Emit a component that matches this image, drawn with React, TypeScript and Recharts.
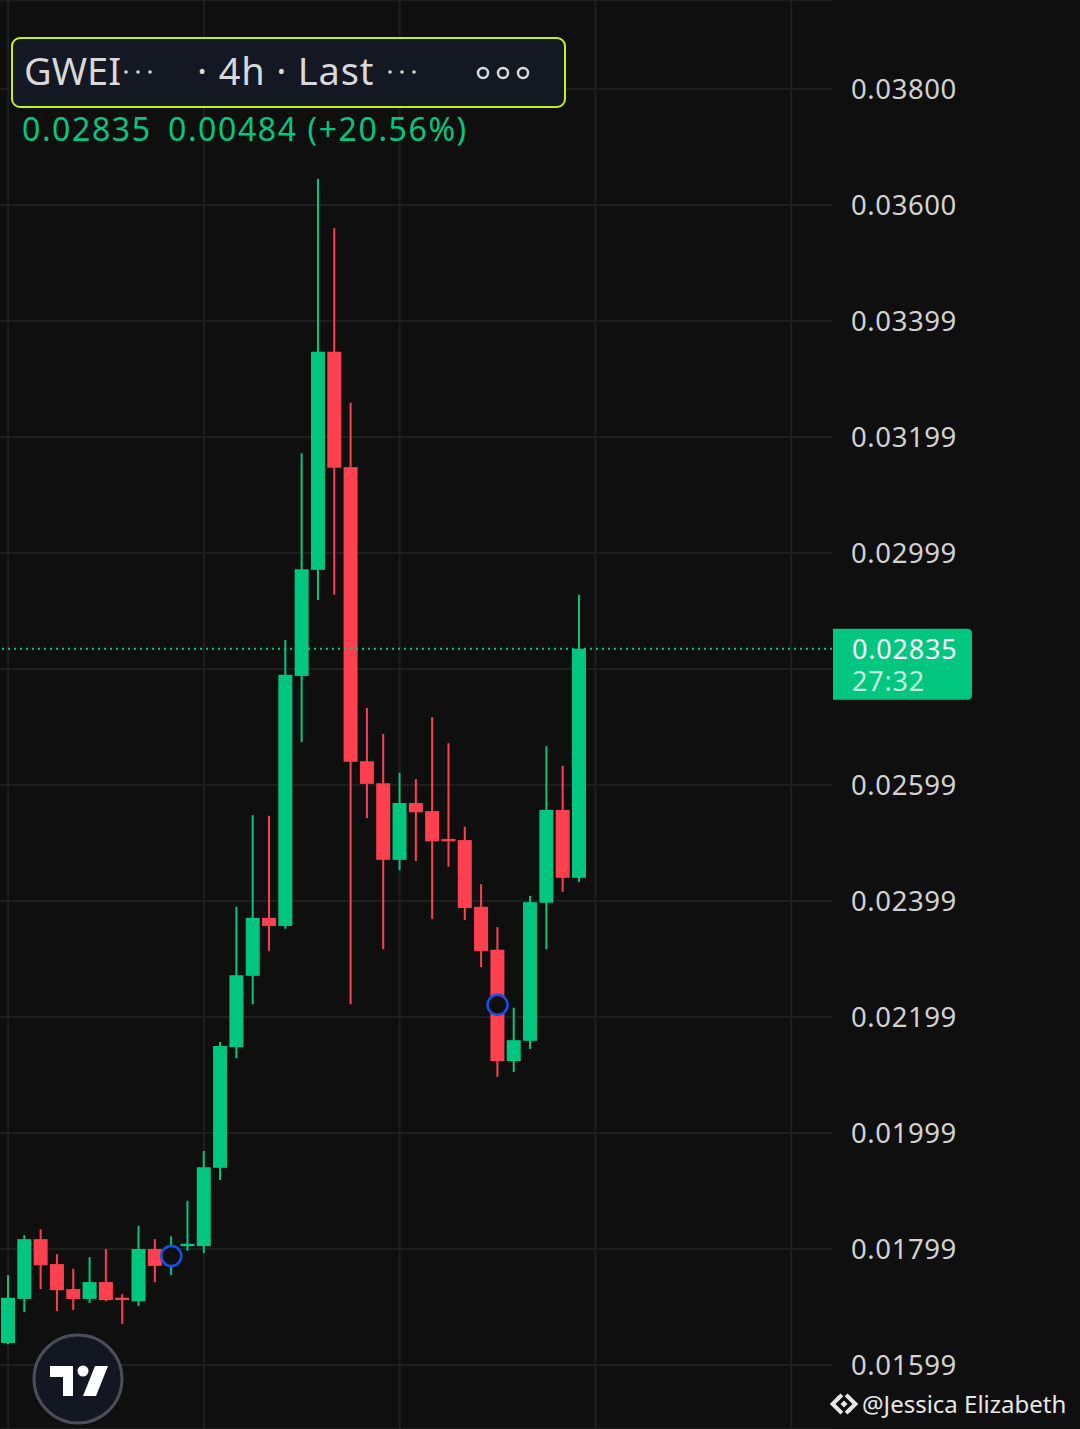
import React from 'react';
import { ComposedChart, Bar, Scatter, XAxis, YAxis, CartesianGrid, ReferenceLine } from 'recharts';

// 4h candles, one slot per bar (empty slots on the right are future space)
const TIMES = [
  'D1 00h', 'D1 04h', 'D1 08h', 'D1 12h', 'D1 16h', 'D1 20h',
  'D2 00h', 'D2 04h', 'D2 08h', 'D2 12h', 'D2 16h', 'D2 20h',
  'D3 00h', 'D3 04h', 'D3 08h', 'D3 12h', 'D3 16h', 'D3 20h',
  'D4 00h', 'D4 04h', 'D4 08h', 'D4 12h', 'D4 16h', 'D4 20h',
  'D5 00h', 'D5 04h', 'D5 08h', 'D5 12h', 'D5 16h', 'D5 20h',
  'D6 00h', 'D6 04h', 'D6 08h', 'D6 12h', 'D6 16h', 'D6 20h',
  'D7 00h', 'D7 04h', 'D7 08h', 'D7 12h', 'D7 16h', 'D7 20h',
  'D8 00h', 'D8 04h', 'D8 08h', 'D8 12h', 'D8 16h', 'D8 20h',
  'D9 00h', 'D9 04h', 'D9 08h',
];

const OPEN = [
  0.01638, 0.01714, 0.01817, 0.01774, 0.01731, 0.01714, 0.01743, 0.01716, 0.01710, 0.01800,
  0.01772, 0.01805, 0.01805, 0.01940, 0.02148, 0.02271, 0.02371, 0.02357, 0.02788, 0.02971,
  0.03347, 0.03148, 0.02641, 0.02603, 0.02471, 0.02569, 0.02555, 0.02507, 0.02505, 0.02390,
  0.02316, 0.02124, 0.02159, 0.02397, 0.02557, 0.02440,
];
const HIGH = [
  0.01755, 0.01824, 0.01834, 0.01791, 0.01766, 0.01786, 0.01800, 0.01722, 0.01840, 0.01817,
  0.01822, 0.01883, 0.01969, 0.02157, 0.02390, 0.02548, 0.02547, 0.02850, 0.03172, 0.03645,
  0.03560, 0.03259, 0.02733, 0.02688, 0.02621, 0.02610, 0.02717, 0.02672, 0.02528, 0.02429,
  0.02355, 0.02216, 0.02409, 0.02667, 0.02633, 0.02928,
];
const LOW = [
  0.01636, 0.01691, 0.01731, 0.01693, 0.01695, 0.01707, 0.01710, 0.01671, 0.01702, 0.01743,
  0.01755, 0.01797, 0.01793, 0.01919, 0.02129, 0.02222, 0.02314, 0.02352, 0.02674, 0.02919,
  0.02928, 0.02222, 0.02543, 0.02317, 0.02453, 0.02469, 0.02369, 0.02459, 0.02367, 0.02286,
  0.02097, 0.02105, 0.02145, 0.02317, 0.02416, 0.02433,
];
const CLOSE = [
  0.01716, 0.01817, 0.01772, 0.01729, 0.01714, 0.01743, 0.01712, 0.01712, 0.01800, 0.01771,
  0.01802, 0.01809, 0.01941, 0.02150, 0.02272, 0.02371, 0.02357, 0.02790, 0.02972, 0.03347,
  0.03147, 0.02640, 0.02602, 0.02471, 0.02569, 0.02553, 0.02503, 0.02503, 0.02388, 0.02314,
  0.02124, 0.02160, 0.02398, 0.02557, 0.02440, 0.02835,
];

// blue circle markers drawn on two candles
const MARKER_INDEX = [10, 30];
const MARKER_PRICE = [0.01788, 0.02221];

const LAST_PRICE = 0.02835;
const Y_TICKS = [0.016, 0.018, 0.02, 0.022, 0.024, 0.026, 0.028, 0.03, 0.032, 0.034, 0.036, 0.038];
const Y_LABELS = ['0.01599', '0.01799', '0.01999', '0.02199', '0.02399', '0.02599', '', '0.02999', '0.03199', '0.03399', '0.03600', '0.03800'];
const GRID_X = ['D1 00h', 'D3 00h', 'D5 00h', 'D7 00h', 'D9 00h'];
const Y_DOMAIN = [0.014897, 0.039534];

const UP = '#00c67f';
const DOWN = '#ff404f';
const BG = '#0f0f0f';
const GRID = '#1f1f1f';
const FONT = '"Noto Sans", "Open Sans", sans-serif';

const data = TIMES.map((t, i) => {
  const idx = MARKER_INDEX.indexOf(i);
  return {
    t,
    o: OPEN[i],
    h: HIGH[i],
    l: LOW[i],
    c: CLOSE[i],
    range: i < OPEN.length ? [LOW[i], HIGH[i]] : null,
    marker: idx >= 0 ? MARKER_PRICE[idx] : null,
  };
});

// vertical grid every 12 candles, placed at band centres by the x scale
const gridX = (props: any) => {
  try {
    const ax = props.xAxis;
    const s = ax.scale;
    const bw = typeof s.bandwidth === 'function' ? s.bandwidth() : ax.bandSize || 0;
    const f = typeof s === 'function' ? s : (v: string) => s.map(v);
    return GRID_X.map((t) => f(t) + bw / 2).filter((v) => Number.isFinite(v));
  } catch (e) {
    return [];
  }
};

const Candle = (props: any) => {
  const { x, y, width, height, payload } = props;
  if (!payload || payload.o == null) return null;
  const { o, h, l, c } = payload;
  const top = Math.min(y, y + height);
  const bottom = Math.max(y, y + height);
  const ppu = (bottom - top) / (h - l);
  const yOf = (p: number) => top + (h - p) * ppu;
  const color = c >= o ? UP : DOWN;
  const bTop = yOf(Math.max(o, c));
  const bH = Math.max(2, yOf(Math.min(o, c)) - bTop);
  const cx = x + width / 2;
  return (
    <g>
      <rect x={cx - 1} y={top} width={2} height={bottom - top} fill={color} />
      <rect x={x} y={bTop} width={width} height={bH} fill={color} />
    </g>
  );
};

const Marker = (props: any) => {
  const { cx, cy } = props;
  if (cy == null || isNaN(cy)) return null;
  return <circle cx={cx} cy={cy} r={10} fill={BG} stroke="#1650e6" strokeWidth={2.5} />;
};

const PriceTag = (props: any) => {
  const { viewBox } = props;
  const x0 = viewBox.x + viewBox.width + 1;
  const y0 = viewBox.y - 20;
  const w = 139;
  const hgt = 71;
  return (
    <g>
      <path
        d={`M${x0},${y0} H${x0 + w - 5} Q${x0 + w},${y0} ${x0 + w},${y0 + 5} V${y0 + hgt - 5} Q${x0 + w},${y0 + hgt} ${x0 + w - 5},${y0 + hgt} H${x0} Z`}
        fill={UP}
      />
      <text x={x0 + 19} y={y0 + 30} fill="#ffffff" fontSize={27} fontFamily={FONT} letterSpacing={0.8}>
        {LAST_PRICE.toFixed(5)}
      </text>
      <text x={x0 + 19} y={y0 + 62} fill="rgba(255,255,255,0.78)" fontSize={27} fontFamily={FONT} letterSpacing={0.8}>
        27:32
      </text>
    </g>
  );
};

const Dots = ({ left, top }: { left: number; top: number }) => (
  <svg width={40} height={10} style={{ position: 'absolute', left, top }}>
    <circle cx={3} cy={5} r={1.8} fill="#d9d9d9" />
    <circle cx={15} cy={5} r={1.8} fill="#d9d9d9" />
    <circle cx={27} cy={5} r={1.8} fill="#d9d9d9" />
  </svg>
);

const TvLogo = () => (
  <svg width={100} height={100} style={{ position: 'absolute', left: 28, top: 1329 }}>
    <circle cx={50} cy={50} r={44} fill="#131722" stroke="#4b4e57" strokeWidth={3} />
    <path d="M22,37 H45 V67 H35 V48 H22 Z" fill="#ffffff" />
    <circle cx={55} cy={42} r={5.5} fill="#ffffff" />
    <path d="M67,37 H80 L68,67 H55 Z" fill="#ffffff" />
  </svg>
);

const App: React.FC = () => {
  return (
    <div style={{ position: 'absolute', left: 0, top: 0, width: 1080, height: 1429, background: BG, overflow: 'hidden', fontFamily: FONT }}>
      <ComposedChart width={1080} height={1429} data={data} margin={{ top: 0, right: 0, left: 0, bottom: 0 }} barSize={14}>
        <CartesianGrid stroke={GRID} strokeWidth={2} verticalCoordinatesGenerator={gridX} />
        <XAxis dataKey="t" height={0} tick={false} axisLine={false} tickLine={false} />
        <YAxis
          orientation="right"
          width={248}
          domain={Y_DOMAIN}
          allowDataOverflow
          ticks={Y_TICKS}
          tickFormatter={(v: number, i: number) => Y_LABELS[i]}
          tick={{ fill: '#d2d2d2', fontSize: 27.5, fontFamily: FONT, letterSpacing: 0.6, textAnchor: 'start' }}
          axisLine={false}
          tickLine={false}
          tickSize={0}
          tickMargin={19}
        />
        <Bar dataKey="range" shape={<Candle />} isAnimationActive={false} />
        <ReferenceLine y={LAST_PRICE} stroke={UP} strokeWidth={2} strokeDasharray="2 4" label={<PriceTag />} />
        <Scatter dataKey="marker" shape={<Marker />} isAnimationActive={false} />
      </ComposedChart>

      {/* symbol header */}
      <div style={{ position: 'absolute', left: 11, top: 37, width: 555, height: 71, boxSizing: 'border-box', border: '2px solid #c3f01d', borderRadius: 9, background: '#141823' }} />
      <div style={{ position: 'absolute', left: 24, top: 48, fontSize: 38, lineHeight: '44px', color: '#d9d9d9', whiteSpace: 'pre' }}>GWEI</div>
      <Dots left={123} top={67} />
      <div style={{ position: 'absolute', left: 197, top: 48, fontSize: 38, lineHeight: '44px', color: '#d9d9d9', letterSpacing: 0.8, whiteSpace: 'pre' }}>· 4h · Last</div>
      <Dots left={387} top={67} />
      <svg width={60} height={20} style={{ position: 'absolute', left: 474, top: 63 }}>
        <circle cx={9} cy={10} r={5} fill="none" stroke="#d9d9d9" strokeWidth={2.5} />
        <circle cx={29} cy={10} r={5} fill="none" stroke="#d9d9d9" strokeWidth={2.5} />
        <circle cx={49} cy={10} r={5} fill="none" stroke="#d9d9d9" strokeWidth={2.5} />
      </svg>
      <div style={{ position: 'absolute', left: 22, top: 110, fontSize: 32, lineHeight: '38px', color: UP, letterSpacing: 1.6, whiteSpace: 'pre' }}>0.02835</div>
      <div style={{ position: 'absolute', left: 168, top: 110, fontSize: 32, lineHeight: '38px', color: UP, letterSpacing: 1.6, whiteSpace: 'pre' }}>0.00484 (+20.56%)</div>

      <TvLogo />

      {/* watermark */}
      <svg width={28} height={28} style={{ position: 'absolute', left: 830, top: 1390 }}>
        <g fill="#e6e6e6" transform="translate(14,14) rotate(45)">
          <rect x={-2.5} y={-2.5} width={5} height={5} />
          <rect x={-10} y={-2} width={4} height={4} />
          <rect x={6} y={-2} width={4} height={4} />
          <path d="M-5,-10 H10 V5 H6 V-6 H-5 Z" />
          <path d="M5,10 H-10 V-5 H-6 V6 H5 Z" />
        </g>
      </svg>
      <div style={{ position: 'absolute', left: 862, top: 1388, fontSize: 24, lineHeight: '32px', color: '#e6e6e6', whiteSpace: 'pre' }}>@Jessica Elizabeth</div>
    </div>
  );
};

export default App;
